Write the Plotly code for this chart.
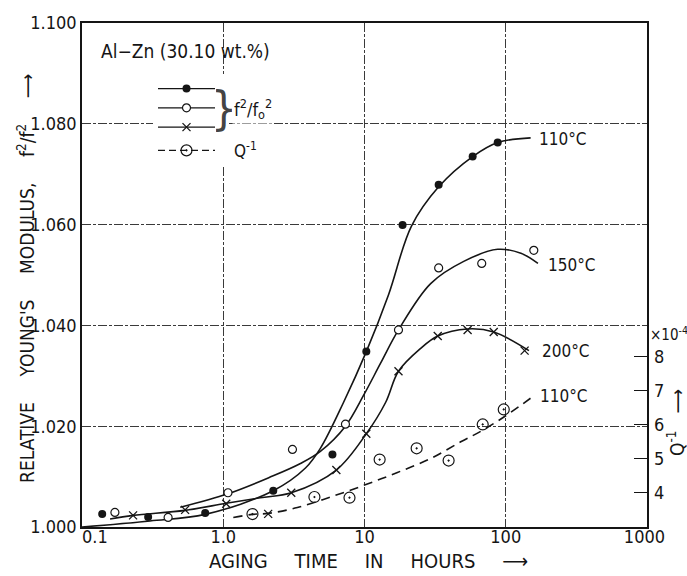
import plotly.graph_objects as go

# ---------------- data ----------------
# measured points, f^2/f0^2 (left axis)
t_110 = [0.139, 0.294, 0.745, 2.26, 5.93, 10.3, 18.6, 33.5, 58.3, 87.7]
f_110 = [1.0026, 1.0020, 1.0028, 1.0072, 1.0144, 1.0348, 1.0599, 1.0679, 1.0735, 1.0763]

t_150 = [0.171, 0.407, 1.08, 3.09, 7.33, 17.4, 33.5, 67.6, 158]
f_150 = [1.0029, 1.0019, 1.0068, 1.0154, 1.0204, 1.0391, 1.0514, 1.0523, 1.0549]

t_200 = [0.230, 0.537, 1.05, 2.08, 3.03, 6.32, 10.3, 17.4, 33.0, 53.7, 82.2, 136]
f_200 = [1.0023, 1.0034, 1.0046, 1.0026, 1.0068, 1.0113, 1.0185, 1.0309, 1.0379, 1.0391, 1.0387, 1.0350]

# measured internal friction Q^-1 (x10^-4, right axis), 110 C
t_q = [1.61, 4.42, 7.83, 12.8, 23.4, 39.4, 68.7, 96.8]
q_110 = [3.38, 3.88, 3.86, 4.98, 5.31, 4.95, 6.01, 6.45]

# hand-drawn smooth curves through the data
ct_110 = [0.1, 0.303, 0.745, 2.26, 3.82, 4.87, 7.10, 10.3, 14.8, 21.5, 33.5, 58.3, 87.7, 150]
cf_110 = [1.000, 1.0012, 1.0025, 1.0072, 1.0117, 1.0156, 1.0247, 1.0348, 1.0461, 1.0597, 1.0675, 1.0735, 1.0763, 1.0772]

ct_150 = [0.496, 1.08, 2.15, 3.52, 4.87, 7.33, 9.84, 13.0, 17.4, 29.4, 50.4, 87.7, 128, 169]
cf_150 = [1.0039, 1.0066, 1.0099, 1.0126, 1.0150, 1.0200, 1.0261, 1.0325, 1.0391, 1.0483, 1.0527, 1.0551, 1.0543, 1.0523]

ct_200 = [0.158, 0.230, 0.537, 1.05, 1.83, 3.03, 6.32, 10.3, 14.1, 17.4, 24.9, 33.0, 53.7, 82.2, 146]
cf_200 = [1.0016, 1.0023, 1.0033, 1.0047, 1.0058, 1.0068, 1.0113, 1.0185, 1.0247, 1.0309, 1.0354, 1.0379, 1.0393, 1.0387, 1.0350]

ct_q = [1.178, 1.61, 2.08, 3.35, 5.74, 10, 17.1, 29.4, 48.0, 68.7, 103, 158]
cq_q = [3.28, 3.37, 3.40, 3.57, 3.88, 4.23, 4.60, 5.01, 5.50, 5.84, 6.30, 6.85]

# axis ticks
x_tickvals = [0.1, 1, 10, 100, 1000]
x_ticktext = ["\u00a0\u00a0\u00a0\u00a0\u00a00.1", "1.0", "10", "100", "1000\u00a0"]
y_tickvals = [1.000, 1.020, 1.040, 1.060, 1.080, 1.100]
y_ticktext = ["1.000", "1.020", "1.040", "1.060", "1.080", "1.100"]
q_tickvals = [4, 5, 6, 7, 8]

# ---------------- styling ----------------
INK = "#151515"
NARROW = "Liberation Sans Narrow, Arial Narrow, DejaVu Sans Condensed, Liberation Sans, sans-serif"
GRID_DASH = "9px,2px,3px,2px"
L, R, T, B = 82, 40, 13, 49
W, H = 687, 576
PW, PH = W - L - R, H - T - B


def px(xp):
    return (xp - L) / PW


def py(yp):
    return (H - B - yp) / PH


fig = go.Figure()

curve_line = dict(color=INK, width=1.6, shape="spline", smoothing=1.0)
for ct, cf in [(ct_110, cf_110), (ct_150, cf_150), (ct_200, cf_200)]:
    fig.add_trace(go.Scatter(x=ct, y=cf, mode="lines", line=curve_line,
                             showlegend=False, hoverinfo="skip"))
fig.add_trace(go.Scatter(x=ct_q, y=cq_q, mode="lines", yaxis="y2",
                         line=dict(color=INK, width=1.6, dash="9px,6px", shape="spline", smoothing=1.0),
                         showlegend=False, hoverinfo="skip"))

m_filled = dict(symbol="circle", size=8, color=INK)
m_open = dict(symbol="circle", size=8, color="white", line=dict(color=INK, width=1.2))
m_cross = dict(symbol="x-thin", size=8, color=INK, line=dict(color=INK, width=1.3))
m_dot = dict(symbol="circle-open-dot", size=11, color=INK, line=dict(width=1.2))

fig.add_trace(go.Scatter(x=t_110, y=f_110, mode="markers", marker=m_filled, showlegend=False))
fig.add_trace(go.Scatter(x=t_150, y=f_150, mode="markers", marker=m_open, showlegend=False))
fig.add_trace(go.Scatter(x=t_200, y=f_200, mode="markers", marker=m_cross, showlegend=False))
fig.add_trace(go.Scatter(x=t_q, y=q_110, mode="markers", marker=m_dot, yaxis="y2", showlegend=False))

# legend-only entries
for m, grp in [(m_filled, "f"), (m_open, "f"), (m_cross, "f")]:
    fig.add_trace(go.Scatter(x=[None], y=[None], mode="lines+markers", marker=m,
                             line=dict(color=INK, width=1.4), name=" ", legendgroup=grp))
fig.add_trace(go.Scatter(x=[None], y=[None], mode="lines+markers", marker=m_dot, yaxis="y2",
                         line=dict(color=INK, width=1.4, dash="7px,4px"), name=" ", legendgroup="q"))

ann = []


def text(s, x, y, size=19, xanchor="left", yanchor="middle", angle=0, bg=None, width=None, color=INK):
    d = dict(text=s, x=x, y=y, xref="paper", yref="paper", showarrow=False,
             xanchor=xanchor, yanchor=yanchor, textangle=angle,
             font=dict(family=NARROW, size=size, color=color))
    if bg:
        d["bgcolor"] = bg
    if width:
        d["width"] = width
    ann.append(d)


text("Al\u2212Zn (30.10 wt.%)", px(99), py(42), size=19)
text("}", px(214), py(100), size=46, width=16, color="#444444")
text("f<sup>2</sup>/f<sub>o</sub><sup>2</sup>", px(232), py(101), size=18, bg="white")
text("Q<sup>-1</sup>", px(232), py(143), size=17)
text("110\u00b0C", px(537), py(131), size=17)
text("150\u00b0C", px(546), py(260), size=17)
text("200\u00b0C", px(540), py(348), size=17)
text("110\u00b0C", px(538), py(393), size=17)
text("\u00d710<sup>-4</sup>", px(648), py(330), size=15)

gap = "\u2003\u2002"
text(gap.join(["AGING", "TIME", "IN", "HOURS", "\u27f6"]), px(368), py(562), size=20, xanchor="center")
gap2 = "\u2003\u2002"
text(gap2.join(["RELATIVE", "YOUNG'S", "MODULUS,", "f<sup>2</sup>/f<sup>2</sup>", "\u27f6"]),
     px(26), py(274), size=19, xanchor="center", angle=-90)
text("Q<sup>-1</sup>\u2003\u27f6", px(676), py(421), size=19, xanchor="center", angle=-90)

axis_common = dict(showline=True, linecolor=INK, linewidth=1.6, mirror=True, zeroline=False,
                   gridcolor="#3a3a3a", gridwidth=0.9, griddash=GRID_DASH,
                   tickfont=dict(family=NARROW, size=18, color=INK), ticks="")

fig.update_layout(
    width=W, height=H,
    margin=dict(l=L, r=R, t=T, b=B, pad=0),
    paper_bgcolor="white", plot_bgcolor="white",
    xaxis=dict(type="log", range=[-1, 3], tickvals=x_tickvals, ticktext=x_ticktext,
               ticklabelstandoff=-7, **axis_common),
    yaxis=dict(range=[1.0, 1.1], tickvals=y_tickvals, ticktext=y_ticktext, **axis_common),
    yaxis2=dict(overlaying="y", side="right", range=[3, 3 + PH / 34.75], tickvals=q_tickvals,
                ticks="inside", ticklen=13, tickwidth=1.3, tickcolor=INK, showgrid=False,
                showline=False, zeroline=False, ticklabelstandoff=6,
                tickfont=dict(family=NARROW, size=18, color=INK)),
    showlegend=True,
    legend=dict(x=px(153), y=py(65), xanchor="left", yanchor="top", bgcolor="white",
                borderwidth=0, itemwidth=57, font=dict(family=NARROW, size=12.5, color=INK),
                tracegroupgap=4, traceorder="grouped", itemclick=False, itemdoubleclick=False),
    annotations=ann,
)

fig.write_html("out.html")
